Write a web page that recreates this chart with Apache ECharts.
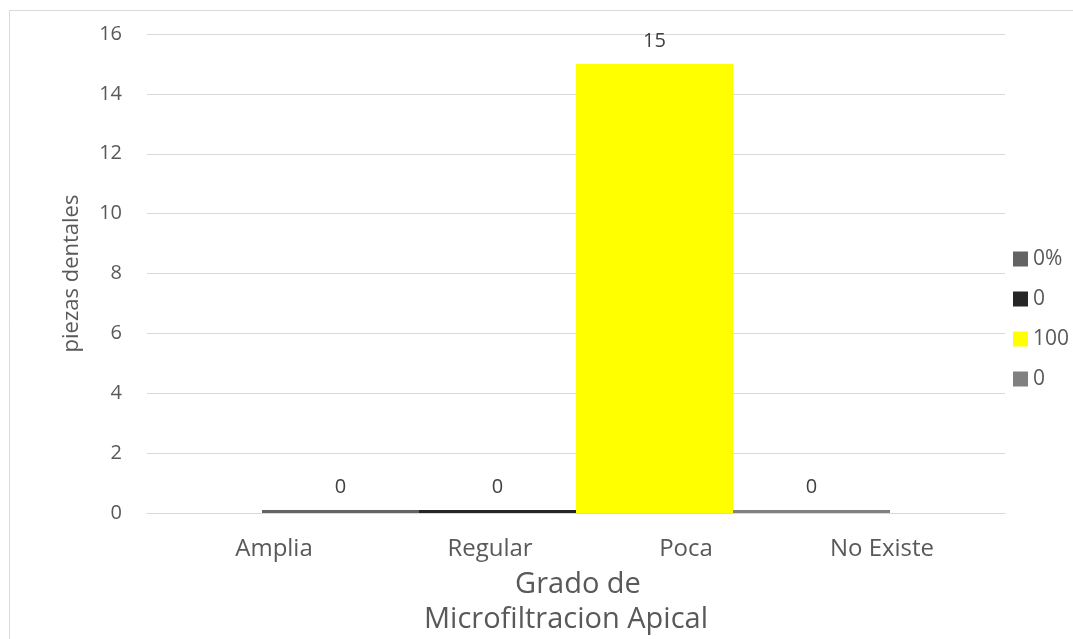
<!DOCTYPE html>
<html>
<head>
<meta charset="utf-8">
<script src="https://cdn.jsdelivr.net/npm/echarts@6/dist/echarts.min.js"></script>
<style>html,body{margin:0;padding:0;background:#fff}#c{width:1073px;height:639px}</style>
</head>
<body>
<div id="c"></div>
<script>
const seriesNames = ['0%', '0', '100', '0 '];
const seriesValues = [0.1, 0.1, 15, 0.1];
const seriesColors = ['#636363', '#262626', '#FFFF00', '#808080'];
const categoryLabels = ['Amplia', 'Regular', 'Poca', 'No Existe'];
const yTicks = { min: 0, max: 16, interval: 2 };
const yTitle = 'piezas dentales';
const xTitle = ['Grado de', 'Microfiltracion Apical'];

const FONT = 'Open Sans';
const chart = echarts.init(document.getElementById('c'));
const series = seriesNames.map((n, i) => ({
  name: n,
  type: 'bar',
  xAxisIndex: 0, yAxisIndex: 0,
  data: [seriesValues[i]],
  barWidth: 157,
  barGap: '0%',
  itemStyle: { color: seriesColors[i] },
  label: {
    show: true, position: 'top', distance: 13,
    formatter: p => String(Math.round(p.value)),
    color: '#404040', fontSize: 20, fontFamily: FONT
  }
}));
const lblStyle = { color: '#595959', fontSize: 24, fontFamily: FONT };
chart.setOption({
  animation: false,
  textStyle: { fontFamily: FONT },
  grid: [
    { left: 147, right: 68, top: 34, bottom: 126 },
    { left: 196, width: 784, top: 34, bottom: 126 }
  ],
  xAxis: [
    { type: 'category', gridIndex: 0, data: ['x'],
      axisLine: { lineStyle: { color: '#d9d9d9' } }, axisTick: { show: false },
      axisLabel: { show: false } },
    { type: 'category', gridIndex: 1, data: categoryLabels,
      axisLine: { show: false }, axisTick: { show: false },
      axisLabel: {
        color: '#595959', fontSize: 24, margin: 24, fontFamily: FONT,
        formatter: (v, i) => i === 0 ? '{a|' + v + '}' : '{b|' + v + '}',
        rich: {
          a: Object.assign({ padding: [0, 40, 0, 0] }, lblStyle),
          b: Object.assign({}, lblStyle)
        }
      } }
  ],
  yAxis: [
    { type: 'value', gridIndex: 0, min: yTicks.min, max: yTicks.max, interval: yTicks.interval,
      name: yTitle, nameLocation: 'middle', nameGap: 64,
      nameTextStyle: { color: '#595959', fontSize: 22, fontFamily: FONT },
      axisLine: { show: false }, axisTick: { show: false },
      axisLabel: { color: '#595959', fontSize: 20, margin: 25, fontFamily: FONT },
      splitLine: { lineStyle: { color: '#d9d9d9' } } },
    { type: 'value', gridIndex: 1, show: false, min: 0, max: 16 }
  ],
  legend: {
    orient: 'vertical', left: 1008, top: 243,
    itemWidth: 15, itemHeight: 15, itemGap: 18, icon: 'rect',
    data: seriesNames,
    formatter: n => n.trim(),
    textStyle: { color: '#595959', fontSize: 21, fontFamily: FONT, lineHeight: 22 }
  },
  graphic: [
    { type: 'rect', shape: { x: 9.5, y: 10.5, width: 1200, height: 800 },
      style: { fill: 'none', stroke: '#d9d9d9', lineWidth: 1 }, silent: true },
    { type: 'text', x: 578, y: 585, style: { text: xTitle[0], fill: '#595959', font: '29px "' + FONT + '"', textAlign: 'center', textVerticalAlign: 'middle' } },
    { type: 'text', x: 566, y: 620, style: { text: xTitle[1], fill: '#595959', font: '29px "' + FONT + '"', textAlign: 'center', textVerticalAlign: 'middle' } }
  ],
  series: series
});
</script>
</body>
</html>
